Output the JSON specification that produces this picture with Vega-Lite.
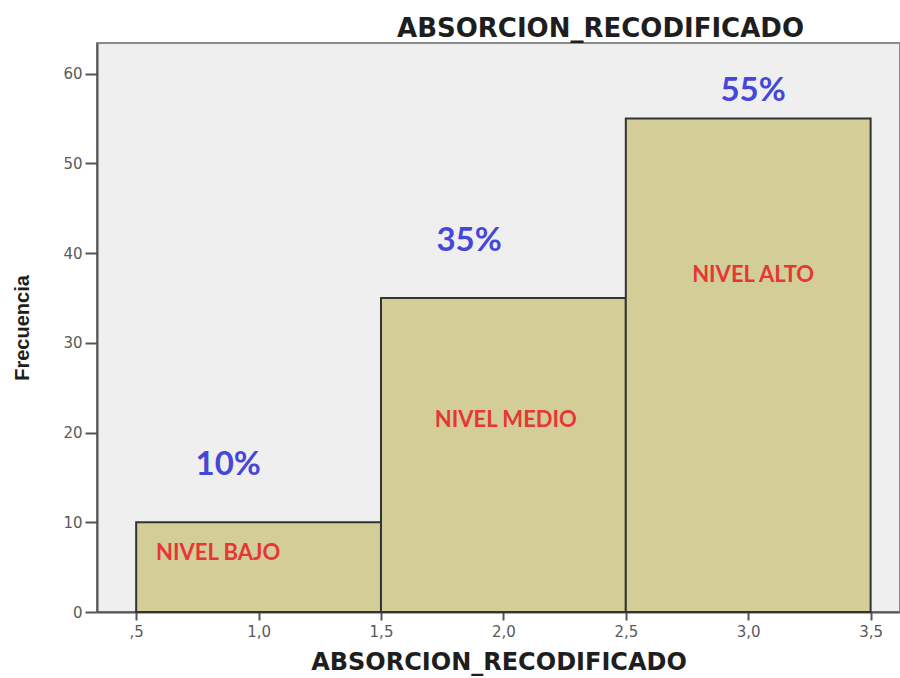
{
  "$schema": "https://vega.github.io/schema/vega-lite/v6.json",
  "autosize": "none",
  "width": 803,
  "height": 569,
  "padding": {"left": 97, "top": 43, "right": 0, "bottom": 66},
  "background": "white",
  "config": {
    "view": {"fill": "#EFEFEF", "stroke": "#8A8A8A", "strokeWidth": 2},
    "axis": {"grid": false, "domainColor": "#555555", "domainWidth": 2, "tickColor": "#555555", "tickWidth": 2, "labelColor": "#5A5A5A", "labelFont": "DejaVu Sans", "labelFontSize": 15, "titleFont": "DejaVu Sans", "titleColor": "#1E1E1E"}
  },
  "title": {"text": "ABSORCION_RECODIFICADO", "font": "DejaVu Sans", "fontSize": 26, "fontWeight": "bold", "color": "#1E1E1E", "anchor": "middle", "dx": 102, "offset": 1},
  "datasets": {
    "bars": [
      {"desde": 0.5, "hasta": 1.5, "frecuencia": 10},
      {"desde": 1.5, "hasta": 2.5, "frecuencia": 35},
      {"desde": 2.5, "hasta": 3.5, "frecuencia": 55}
    ],
    "pct": [
      {"x": 0.876, "y": 16.4, "label": "10%"},
      {"x": 1.86, "y": 41.3, "label": "35%"},
      {"x": 3.02, "y": 58.1, "label": "55%"}
    ],
    "niveles": [
      {"x": 0.835, "y": 6.6, "label": "NIVEL BAJO"},
      {"x": 2.01, "y": 21.4, "label": "NIVEL MEDIO"},
      {"x": 3.02, "y": 37.5, "label": "NIVEL ALTO"}
    ]
  },
  "layer": [
    {
      "data": {"name": "bars"},
      "mark": {"type": "rect", "fill": "#D3CE98", "stroke": "#333333", "strokeWidth": 2},
      "encoding": {
        "x": {"field": "desde", "type": "quantitative", "scale": {"domain": [0.34, 3.62], "nice": false, "zero": false},
          "axis": {"values": [0.5, 1, 1.5, 2, 2.5, 3, 3.5], "labelExpr": "datum.value == 0.5 ? ',5' : replace(format(datum.value, '.1f'), '.', ',')", "title": "ABSORCION_RECODIFICADO", "titleFontSize": 24, "titleFontWeight": "bold", "titlePadding": 11, "labelPadding": 4, "tickSize": 8}},
        "x2": {"field": "hasta"},
        "y": {"field": "frecuencia", "type": "quantitative", "scale": {"domain": [0, 63.4], "nice": false},
          "axis": {"values": [0, 10, 20, 30, 40, 50, 60], "title": "Frecuencia", "titleFont": "Liberation Sans", "titleFontSize": 20, "titleFontWeight": "bold", "titlePadding": 30, "labelPadding": 3, "tickSize": 12}},
        "y2": {"datum": 0}
      }
    },
    {
      "data": {"name": "pct"},
      "mark": {"type": "text", "font": "Lato", "fontSize": 33, "fontWeight": "bold", "color": "#4646D8", "align": "center", "baseline": "middle"},
      "encoding": {
        "x": {"field": "x", "type": "quantitative"},
        "y": {"field": "y", "type": "quantitative"},
        "text": {"field": "label"}
      }
    },
    {
      "data": {"name": "niveles"},
      "mark": {"type": "text", "font": "Lato", "fontSize": 22, "fontWeight": "bold", "color": "#E63636", "align": "center", "baseline": "middle"},
      "encoding": {
        "x": {"field": "x", "type": "quantitative"},
        "y": {"field": "y", "type": "quantitative"},
        "text": {"field": "label"}
      }
    }
  ]
}
